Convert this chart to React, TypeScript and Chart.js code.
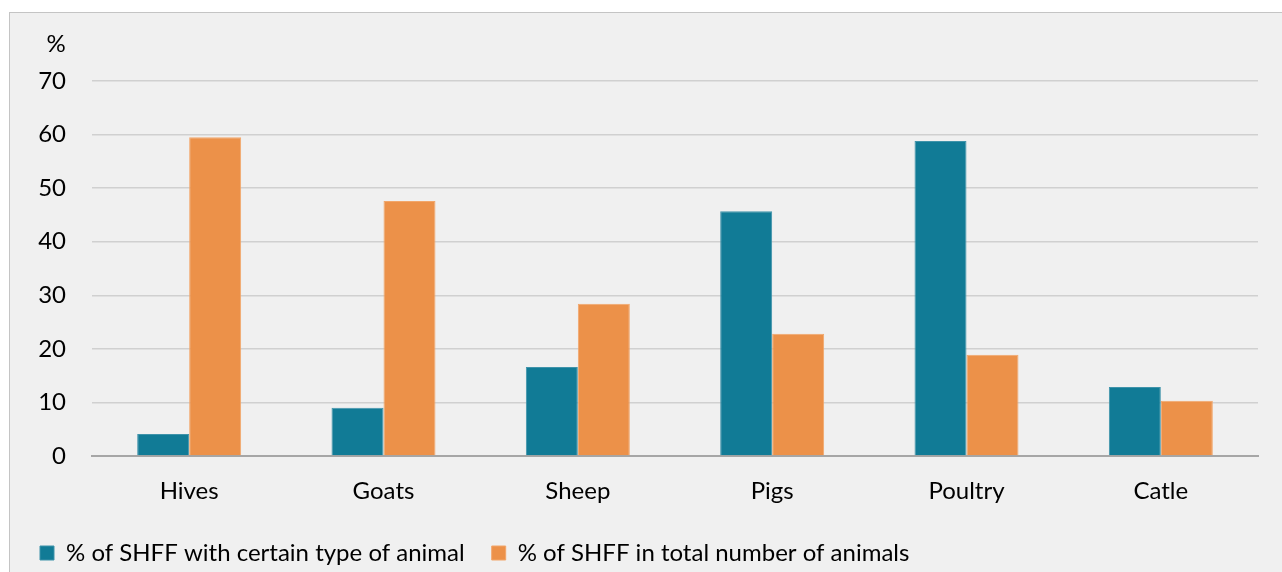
import React, { useEffect, useRef } from "react";
import { Chart, registerables } from "chart.js";

Chart.register(...registerables);

const categories = ["Hives", "Goats", "Sheep", "Pigs", "Poultry", "Catle"];
const withAnimal = [4.1, 9.0, 16.6, 45.7, 58.8, 12.9];
const inTotal = [59.5, 47.6, 28.4, 22.8, 18.9, 10.3];
const seriesNames = [
  "% of SHFF with certain type of animal",
  "% of SHFF in total number of animals",
];
const yTicks = [0, 10, 20, 30, 40, 50, 60, 70];

const FONT = "Lato, 'Noto Sans', sans-serif";
const FS = 24;

const percentLabel = {
  id: "percentLabel",
  afterDraw(chart: any) {
    const ctx = chart.ctx;
    ctx.save();
    ctx.fillStyle = "#000";
    ctx.font = `${FS}px ${FONT}`;
    ctx.textAlign = "center";
    ctx.textBaseline = "middle";
    ctx.fillText("%", 46, 31);
    ctx.restore();
  },
};

export default function App() {
  const ref = useRef<HTMLCanvasElement>(null);
  useEffect(() => {
    if (!ref.current) return;
    const chart = new Chart(ref.current, {
      type: "bar",
      data: {
        labels: categories,
        datasets: [
          {
            label: seriesNames[0],
            data: withAnimal,
            backgroundColor: "#117b96",
            borderColor: "#3f93aa",
            borderWidth: 1,
            categoryPercentage: 0.535,
            barPercentage: 1,
          },
          {
            label: seriesNames[1],
            data: inTotal,
            backgroundColor: "#ec9149",
            borderColor: "#f2a66a",
            borderWidth: 1,
            categoryPercentage: 0.535,
            barPercentage: 1,
          },
        ],
      },
      options: {
        responsive: false,
        animation: false,
        layout: { padding: { left: 3, right: 22, top: 68, bottom: 2 } },
        plugins: {
          tooltip: { enabled: false },
          legend: {
            position: "bottom",
            align: "start",
            labels: {
              boxWidth: 14,
              boxHeight: 14,
              padding: 27,
              color: "#000",
              font: { family: FONT, size: FS },
            },
          },
        },
        scales: {
          x: {
            grid: { display: false, drawTicks: false },
            border: { display: true, color: "#a6a6a6", width: 2 },
            ticks: { color: "#000", font: { family: FONT, size: FS }, padding: 21 },
            afterFit(scale: any) {
              scale.height = 58;
            },
          },
          y: {
            min: 0,
            max: 70,
            afterBuildTicks(scale: any) {
              scale.ticks = yTicks.map((v) => ({ value: v }));
            },
            grid: { color: "#d0d0d0", lineWidth: 1.5, drawTicks: false },
            border: { display: false },
            ticks: { color: "#000", font: { family: FONT, size: FS }, padding: 26 },
            afterFit(scale: any) {
              scale.width = 79;
            },
          },
        },
      },
      plugins: [percentLabel],
    });
    return () => chart.destroy();
  }, []);
  return (
    <div
      style={{
        position: "fixed",
        left: 9,
        top: 12,
        width: 1290,
        height: 580,
        background: "#f0f0f0",
        border: "1px solid #c4c4c4",
      }}
    >
      <canvas ref={ref} width={1270} height={564} style={{ display: "block" }} />
    </div>
  );
}
